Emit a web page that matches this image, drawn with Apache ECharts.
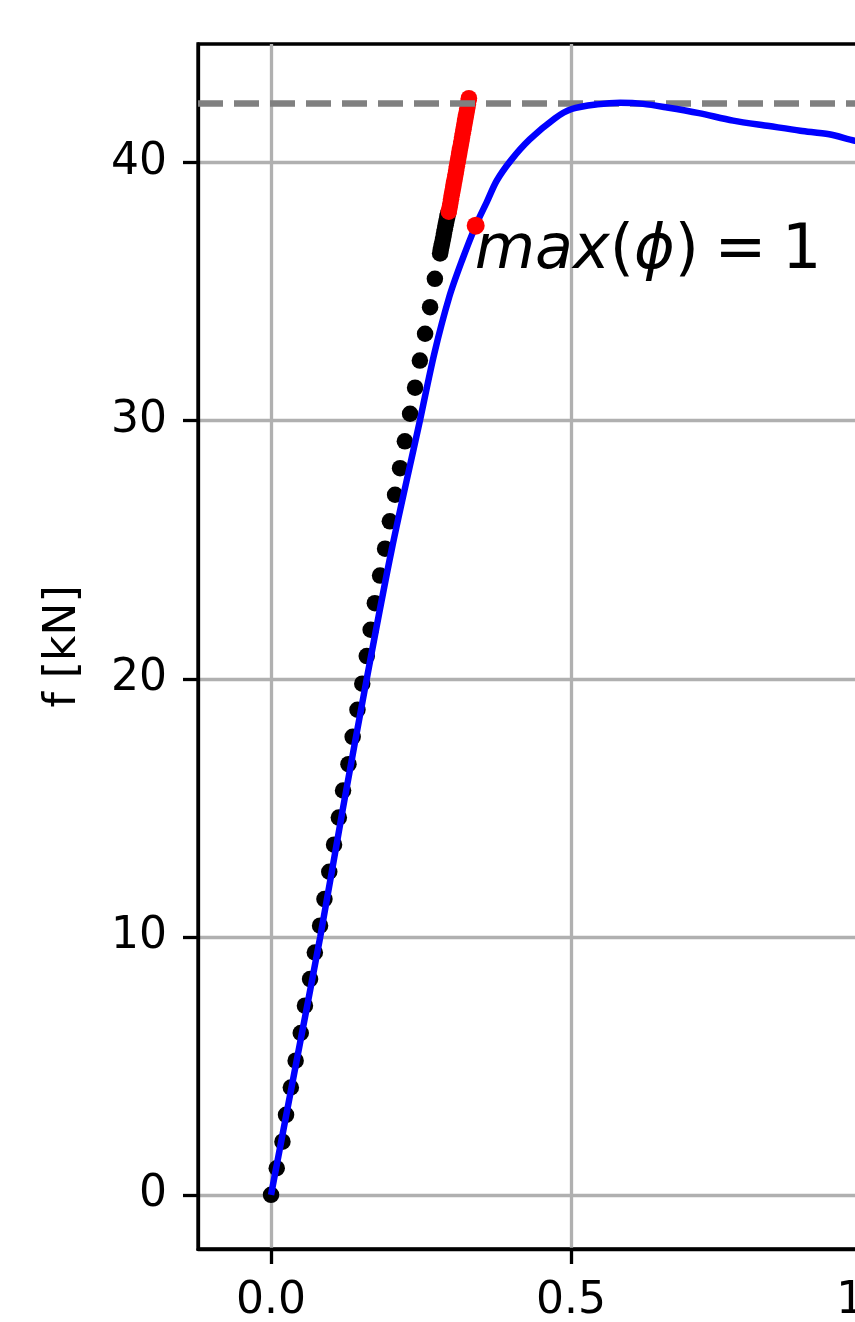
<!DOCTYPE html>
<html>
<head>
<meta charset="utf-8">
<script src="https://cdn.jsdelivr.net/npm/echarts@6/dist/echarts.min.js"></script>
<style>
  html, body { margin: 0; padding: 0; background: #fff; }
  #chart { width: 855px; height: 1322px; }
</style>
</head>
<body>
<div id="chart"></div>
<script>
// Experimental points (black) : displacement [mm] and force f [kN]
const expX = [0, 0.0095, 0.019, 0.025, 0.033, 0.041, 0.0495, 0.0565, 0.065, 0.073, 0.0817, 0.089, 0.097, 0.105, 0.113, 0.120, 0.129, 0.136, 0.144, 0.152, 0.1595, 0.166, 0.173, 0.1817, 0.190, 0.198, 0.2067, 0.215, 0.223, 0.2317, 0.240, 0.248, 0.2567, 0.265, 0.273, 0.2817,
              0.2828, 0.2842, 0.2855, 0.2869, 0.2882, 0.2896, 0.2909, 0.2923, 0.2937, 0.2950];
const expF = [0, 1.03, 2.06, 3.10, 4.16, 5.20, 6.27, 7.33, 8.36, 9.39, 10.43, 11.46, 12.52, 13.57, 14.62, 15.67, 16.69, 17.75, 18.80, 19.81, 20.88, 21.90, 22.93, 24.00, 25.04, 26.10, 27.13, 28.16, 29.20, 30.27, 31.28, 32.33, 33.37, 34.40, 35.50, 36.48,
              36.62, 36.78, 36.94, 37.10, 37.26, 37.42, 37.58, 37.74, 37.90, 38.04];
// Experimental points after damage (red)
const redX = [0.2962, 0.2975, 0.2987, 0.2999, 0.3011, 0.3024, 0.3036, 0.3048, 0.3061, 0.3073, 0.3085, 0.3097, 0.3110, 0.3122, 0.3134, 0.3146, 0.3159, 0.3171, 0.3183, 0.3196, 0.3208, 0.3220, 0.3232, 0.3245, 0.3257, 0.3269, 0.3281, 0.3292, 0.3297];
const redF = [38.10, 38.26, 38.42, 38.58, 38.74, 38.90, 39.06, 39.22, 39.38, 39.54, 39.70, 39.86, 40.02, 40.18, 40.34, 40.50, 40.66, 40.82, 40.98, 41.14, 41.30, 41.46, 41.62, 41.78, 41.94, 42.10, 42.26, 42.42, 42.50];
// Model curve (blue)
const modelX = [0, 0.041, 0.082, 0.120, 0.1595, 0.201, 0.248, 0.272, 0.297, 0.318, 0.341, 0.360, 0.376, 0.400, 0.431, 0.473, 0.501, 0.544, 0.582, 0.620, 0.660, 0.713, 0.770, 0.830, 0.882, 0.930, 0.973, 1.020];
const modelF = [0, 5, 10, 15, 20, 25, 30, 32.6, 34.8, 36.2, 37.56, 38.5, 39.3, 40.1, 40.9, 41.72, 42.08, 42.26, 42.32, 42.28, 42.14, 41.92, 41.63, 41.42, 41.24, 41.1, 40.85, 40.65];
// Point where max(phi) = 1
const phiPointX = 0.341;
const phiPointF = 37.56;
// Maximum force (dashed line)
const maxForce = 42.3;
// Ticks
const xTicks = [0, 0.5, 1.0, 1.5, 2.0, 2.5];
const yTicks = [0, 10, 20, 30, 40];

const zip = (a, b) => a.map((v, i) => [v, b[i]]);

const chart = echarts.init(document.getElementById('chart'), null, { renderer: 'canvas' });
const FONT = 'DejaVu Sans';
const axisCommon = {
  type: 'value',
  axisLine: { show: true, onZero: false, lineStyle: { color: '#000', width: 3.3 } },
  axisTick: { show: true, inside: false, length: 15, lineStyle: { color: '#000', width: 3.3 } },
  splitLine: { show: true, lineStyle: { color: '#b0b0b0', width: 3.3 } },
  minorTick: { show: false },
  minorSplitLine: { show: false }
};

chart.setOption({
  animation: false,
  backgroundColor: '#fff',
  grid: {
    left: 198, top: 44, width: 1607, height: 1205,
    containLabel: false, outerBoundsMode: 'none',
    show: true, borderColor: '#000', borderWidth: 3.3, backgroundColor: 'transparent'
  },
  xAxis: Object.assign({}, axisCommon, {
    min: -0.1217, max: 2.556,
    axisTick: Object.assign({}, axisCommon.axisTick, { customValues: xTicks }),
    axisLabel: { customValues: xTicks, fontFamily: FONT, fontSize: 44, color: '#000', margin: 31,
      formatter: v => v.toFixed(1) }
  }),
  yAxis: Object.assign({}, axisCommon, {
    min: -2.1, max: 44.6,
    name: 'f [kN]', nameLocation: 'middle', nameRotate: 90, nameGap: 112,
    nameTextStyle: { fontFamily: FONT, fontSize: 44, color: '#000' },
    axisTick: Object.assign({}, axisCommon.axisTick, { customValues: yTicks }),
    axisLabel: { customValues: yTicks, fontFamily: FONT, fontSize: 44, color: '#000', margin: 31,
      formatter: v => String(v) }
  }),
  series: [
    {
      type: 'scatter', z: 2, data: zip(expX, expF),
      symbol: 'circle', symbolSize: 16.5,
      itemStyle: { color: '#000', opacity: 1 }, silent: true
    },
    {
      type: 'scatter', z: 3, data: zip(redX, redF),
      symbol: 'circle', symbolSize: 16.5,
      itemStyle: { color: '#ff0000', opacity: 1 }, silent: true,
      markLine: {
        silent: true, symbol: ['none', 'none'], z: 5,
        label: { show: false },
        lineStyle: { color: '#808080', width: 6.5, type: [25, 11], opacity: 1 },
        emphasis: { disabled: true },
        data: [{ yAxis: maxForce }]
      }
    },
    {
      type: 'line', z: 10, data: zip(modelX, modelF),
      showSymbol: false, symbol: 'none', smooth: 0.3,
      lineStyle: { color: '#0000ff', width: 6.5 }, silent: true
    },
    {
      type: 'scatter', z: 11, data: [[phiPointX, phiPointF]],
      symbol: 'circle', symbolSize: 18,
      itemStyle: { color: '#ff0000', opacity: 1 }, silent: true,
      label: {
        show: true, position: [8, 4], align: 'left', verticalAlign: 'top',
        formatter: '{i|max}{r|(}{i|\u03D5}{r|)\u2005=\u20051}',
        rich: {
          i: { fontFamily: FONT, fontStyle: 'italic', fontSize: 62, color: '#000' },
          r: { fontFamily: FONT, fontSize: 62, color: '#000' }
        }
      }
    }
  ]
});
</script>
</body>
</html>
